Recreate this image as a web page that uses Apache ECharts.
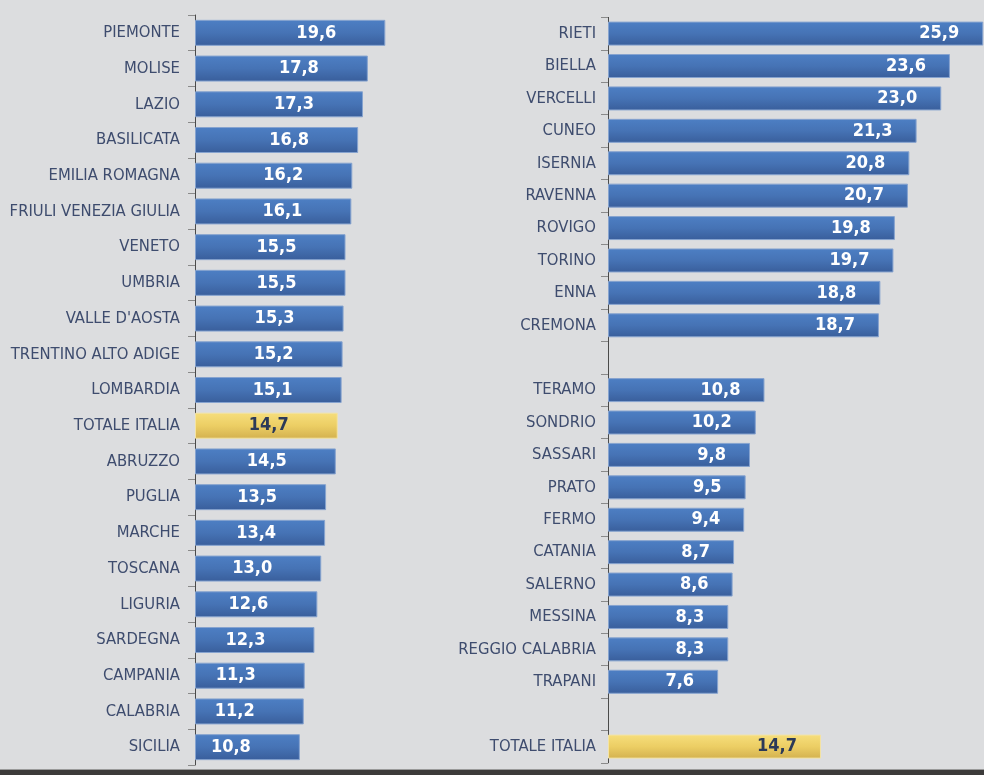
<!DOCTYPE html>
<html>
<head>
<meta charset="utf-8">
<script src="https://cdn.jsdelivr.net/npm/echarts@6/dist/echarts.min.js"></script>
<style>
html,body{margin:0;padding:0;background:#dcdddf;}
#c{width:984px;height:775px;}
</style>
</head>
<body>
<div id="c"></div>
<script>
// ---- data ----
const leftNames = ['PIEMONTE','MOLISE','LAZIO','BASILICATA','EMILIA ROMAGNA','FRIULI VENEZIA GIULIA','VENETO','UMBRIA',"VALLE D'AOSTA",'TRENTINO ALTO ADIGE','LOMBARDIA','TOTALE ITALIA','ABRUZZO','PUGLIA','MARCHE','TOSCANA','LIGURIA','SARDEGNA','CAMPANIA','CALABRIA','SICILIA'];
const leftValues = [19.6,17.8,17.3,16.8,16.2,16.1,15.5,15.5,15.3,15.2,15.1,14.7,14.5,13.5,13.4,13.0,12.6,12.3,11.3,11.2,10.8];

const rightNames = ['RIETI','BIELLA','VERCELLI','CUNEO','ISERNIA','RAVENNA','ROVIGO','TORINO','ENNA','CREMONA',' ','TERAMO','SONDRIO','SASSARI','PRATO','FERMO','CATANIA','SALERNO','MESSINA','REGGIO CALABRIA','TRAPANI','  ','TOTALE ITALIA'];
const rightValues = [25.9,23.6,23.0,21.3,20.8,20.7,19.8,19.7,18.8,18.7,null,10.8,10.2,9.8,9.5,9.4,8.7,8.6,8.3,8.3,7.6,null,14.7];

const highlightName = 'TOTALE ITALIA';

// ---- styles ----
const FONT = '"Liberation Sans Narrow","DejaVu Sans Condensed","Liberation Sans",sans-serif';
const blueGrad = new echarts.graphic.LinearGradient(0,0,0,1,[
  {offset:0,color:'#4d7fc4'},{offset:0.5,color:'#4673b5'},{offset:1,color:'#395e9b'}]);
const yellowGrad = new echarts.graphic.LinearGradient(0,0,0,1,[
  {offset:0,color:'#f6de7c'},{offset:0.5,color:'#ecce64'},{offset:1,color:'#d3b14f'}]);

function buildData(names, values){
  return values.map((v,i)=>{
    if (v === null) return {value:null};
    const hl = names[i] === highlightName;
    return {
      value: v,
      itemStyle: {color: hl ? yellowGrad : blueGrad, borderColor: hl ? '#f3e3a4' : '#86a3cf', borderWidth: 1},
      label: {color: hl ? '#2c3a58' : '#ffffff'}
    };
  });
}

function yAxisCfg(gridIndex, names, margin){
  return {
    type:'category', gridIndex, data:names, inverse:true,
    axisLine:{show:true, lineStyle:{color:'#4a4a4a', width:1}},
    axisTick:{show:true, length:7, lineStyle:{color:'#8a8a8a'}},
    axisLabel:{color:'#3e4c6e', fontFamily:FONT, fontSize:16.5, margin:margin}
  };
}

const chart = echarts.init(document.getElementById('c'));
chart.setOption({
  backgroundColor:'#dcdddf',
  animation:false,
  grid:[
    {left:195, top:15, height:750, width:242.75, outerBoundsMode:'none', containLabel:false},
    {left:608, top:17.4, height:745.4, width:376.7, outerBoundsMode:'none', containLabel:false}
  ],
  xAxis:[
    {type:'value', gridIndex:0, min:0, max:25, show:false},
    {type:'value', gridIndex:1, min:0, max:26, show:false}
  ],
  yAxis:[yAxisCfg(0, leftNames, 15), yAxisCfg(1, rightNames, 12)],
  series:[
    {type:'bar', xAxisIndex:0, yAxisIndex:0, barWidth:26, data:buildData(leftNames,leftValues),
     label:{show:true, position:'insideRight', distance:49, fontFamily:FONT, fontWeight:'bold', fontSize:18,
       formatter:p=>p.value.toFixed(1).replace('.',',')}},
    {type:'bar', xAxisIndex:1, yAxisIndex:1, barWidth:24, data:buildData(rightNames,rightValues),
     label:{show:true, position:'insideRight', distance:24, fontFamily:FONT, fontWeight:'bold', fontSize:18,
       formatter:p=>p.value==null?'':p.value.toFixed(1).replace('.',',')}}
  ],
  graphic:[
    {type:'rect', shape:{x:0,y:769,width:984,height:1}, style:{fill:'#9a9a9a'}, silent:true},
    {type:'rect', shape:{x:0,y:770,width:984,height:5}, style:{fill:'#3c3b3a'}, silent:true}
  ]
});
</script>
</body>
</html>
